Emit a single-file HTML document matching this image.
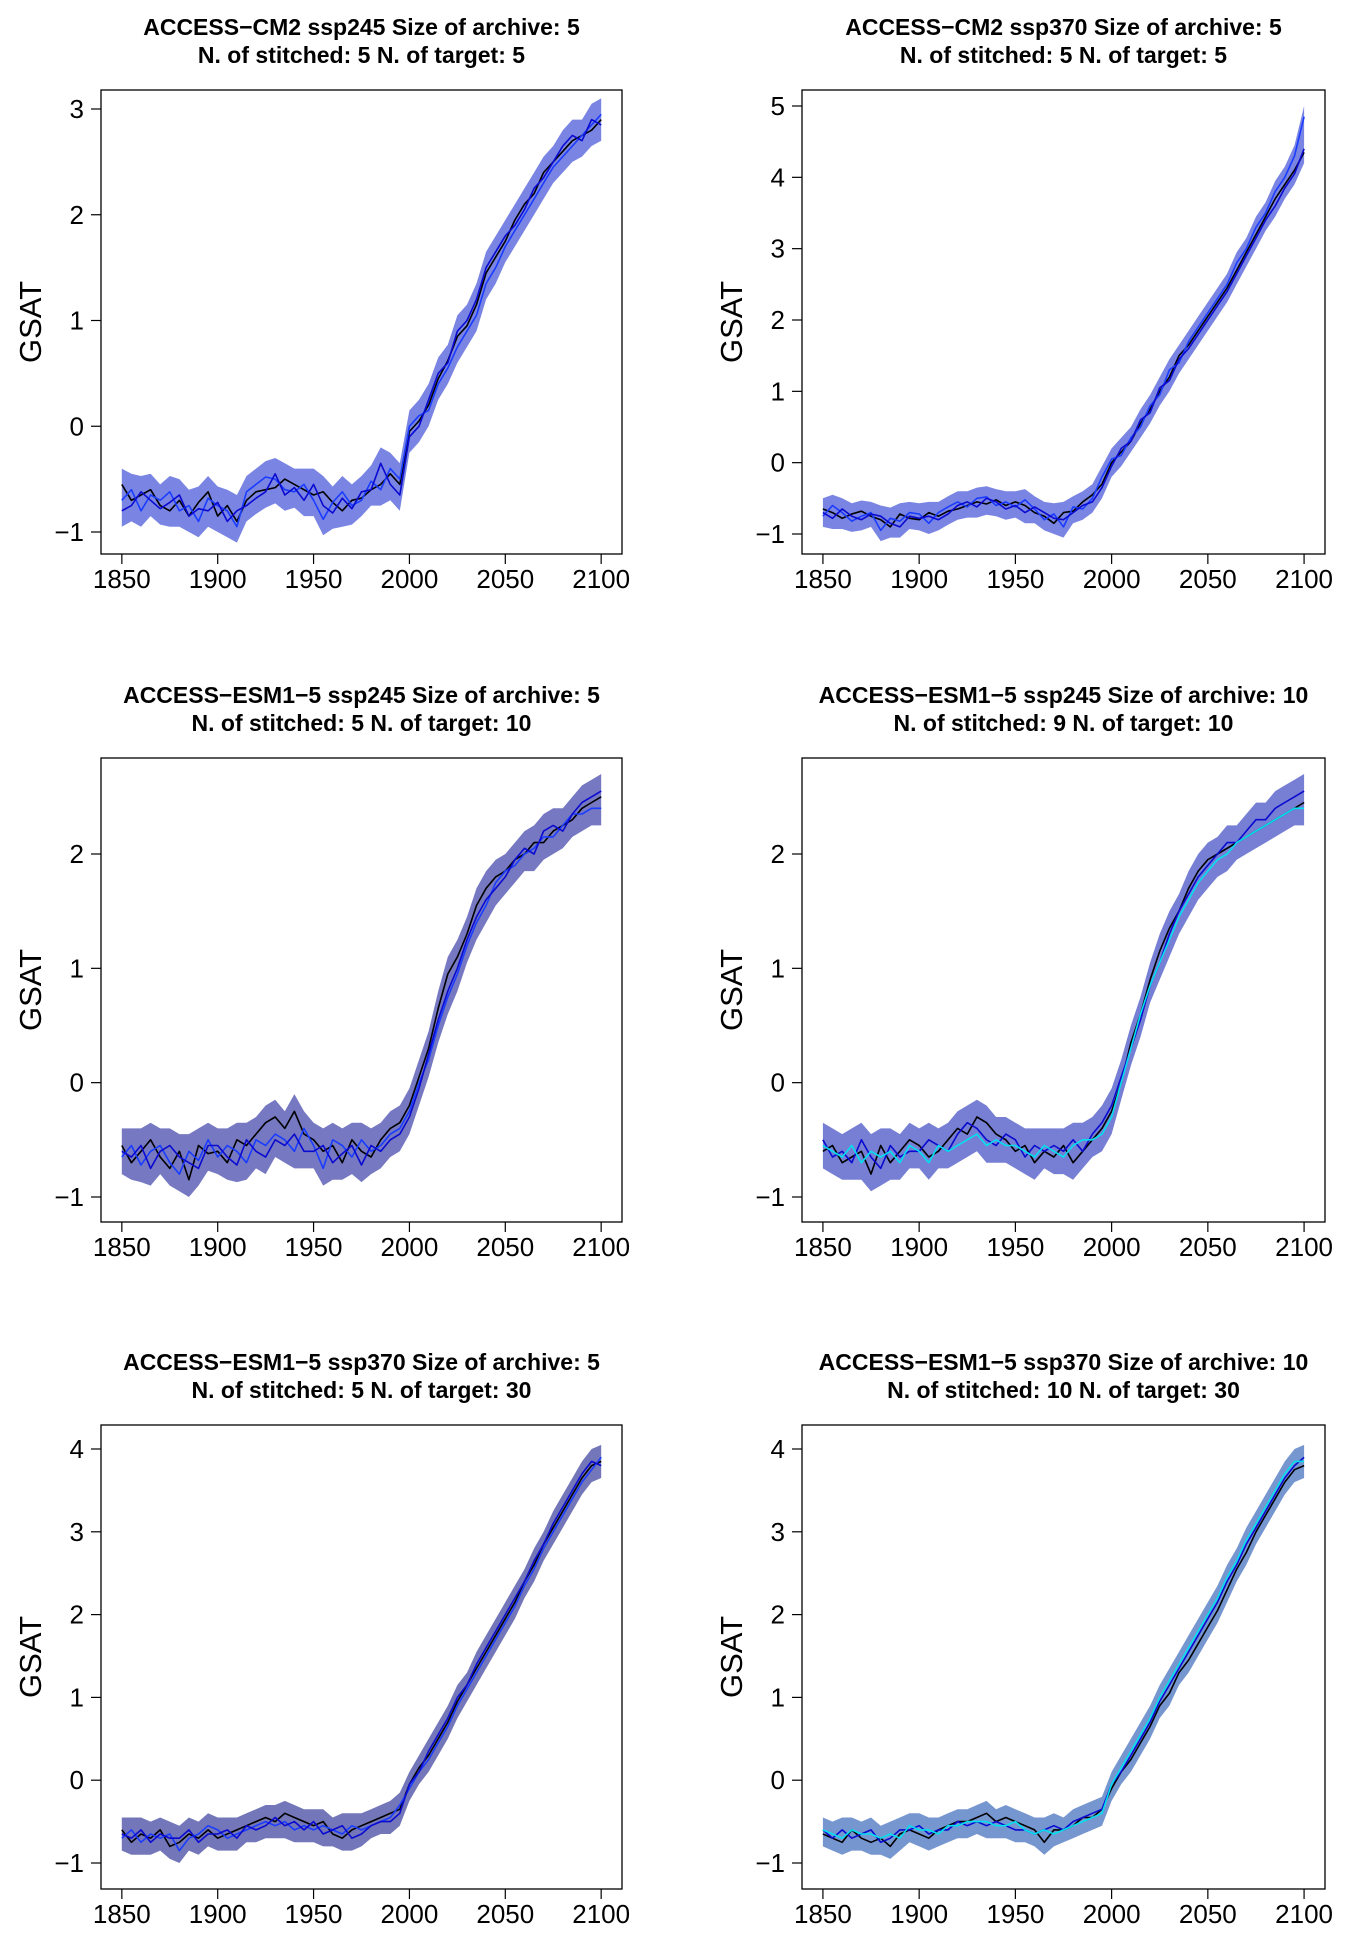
<!DOCTYPE html>
<html><head><meta charset="utf-8"><style>
html,body{margin:0;padding:0;background:#fff}
svg{display:block}
text{font-family:"Liberation Sans",Arial,sans-serif;fill:#000}
.t{font-weight:bold;font-size:23px}
.tk{font-size:26px}
.yl{font-size:31px}
</style></head><body>
<svg id="chart" width="1350" height="1938" viewBox="0 0 1350 1938" xmlns="http://www.w3.org/2000/svg"></svg>
<script>
const years=[1850,1855,1860,1865,1870,1875,1880,1885,1890,1895,1900,1905,1910,1915,1920,1925,1930,1935,1940,1945,1950,1955,1960,1965,1970,1975,1980,1985,1990,1995,2000,2005,2010,2015,2020,2025,2030,2035,2040,2045,2050,2055,2060,2065,2070,2075,2080,2085,2090,2095,2100];
const xTicks=[1850,1900,1950,2000,2050,2100];
const yTicks1=[-1,0,1,2,3];
const yTicks2=[-1,0,1,2,3,4,5];
const yTicks3=[-1,0,1,2];
const yTicks5=[-1,0,1,2,3,4];
const titles1=["ACCESS\u2212CM2 ssp245 Size of archive: 5","N. of stitched: 5 N. of target: 5"];
const titles2=["ACCESS\u2212CM2 ssp370 Size of archive: 5","N. of stitched: 5 N. of target: 5"];
const titles3=["ACCESS\u2212ESM1\u22125 ssp245 Size of archive: 5","N. of stitched: 5 N. of target: 10"];
const titles4=["ACCESS\u2212ESM1\u22125 ssp245 Size of archive: 10","N. of stitched: 9 N. of target: 10"];
const titles5=["ACCESS\u2212ESM1\u22125 ssp370 Size of archive: 5","N. of stitched: 5 N. of target: 30"];
const titles6=["ACCESS\u2212ESM1\u22125 ssp370 Size of archive: 10","N. of stitched: 10 N. of target: 30"];

const p1a=[-0.55,-0.7,-0.65,-0.6,-0.75,-0.8,-0.7,-0.85,-0.72,-0.62,-0.85,-0.75,-0.9,-0.7,-0.62,-0.6,-0.58,-0.5,-0.55,-0.6,-0.65,-0.62,-0.72,-0.8,-0.7,-0.68,-0.6,-0.55,-0.45,-0.55,-0.05,0.05,0.2,0.45,0.62,0.85,0.95,1.15,1.45,1.6,1.75,1.95,2.1,2.2,2.4,2.5,2.6,2.7,2.75,2.8,2.9];
const p1b=[-0.7,-0.6,-0.8,-0.65,-0.7,-0.62,-0.8,-0.75,-0.9,-0.68,-0.75,-0.8,-0.95,-0.62,-0.55,-0.48,-0.5,-0.6,-0.62,-0.55,-0.7,-0.88,-0.72,-0.62,-0.75,-0.7,-0.52,-0.6,-0.4,-0.5,0.0,0.1,0.15,0.4,0.55,0.75,0.9,1.05,1.35,1.5,1.7,1.85,2.0,2.15,2.3,2.45,2.55,2.65,2.75,2.85,2.95];
const p1c=[-0.8,-0.75,-0.62,-0.7,-0.78,-0.72,-0.65,-0.85,-0.78,-0.8,-0.72,-0.9,-0.8,-0.75,-0.68,-0.62,-0.45,-0.65,-0.58,-0.7,-0.55,-0.75,-0.82,-0.68,-0.78,-0.62,-0.6,-0.35,-0.55,-0.65,-0.1,0.0,0.25,0.5,0.6,0.9,1.0,1.2,1.5,1.65,1.8,1.9,2.05,2.25,2.35,2.5,2.65,2.75,2.7,2.9,2.85];

const p2a=[-0.65,-0.7,-0.78,-0.72,-0.68,-0.75,-0.8,-0.9,-0.72,-0.78,-0.8,-0.7,-0.75,-0.68,-0.65,-0.6,-0.55,-0.58,-0.52,-0.6,-0.55,-0.6,-0.7,-0.75,-0.85,-0.7,-0.68,-0.55,-0.45,-0.3,0.0,0.15,0.3,0.55,0.75,1.0,1.2,1.5,1.65,1.85,2.05,2.25,2.45,2.7,2.95,3.2,3.45,3.7,3.9,4.1,4.35];
const p2b=[-0.75,-0.6,-0.7,-0.82,-0.75,-0.7,-0.95,-0.78,-0.82,-0.7,-0.72,-0.85,-0.7,-0.62,-0.55,-0.62,-0.5,-0.48,-0.6,-0.55,-0.62,-0.52,-0.65,-0.8,-0.72,-0.9,-0.62,-0.65,-0.5,-0.2,0.05,0.1,0.35,0.5,0.8,0.95,1.3,1.4,1.7,1.9,2.1,2.3,2.5,2.8,3.0,3.3,3.5,3.8,4.0,4.3,4.85];
const p2c=[-0.7,-0.78,-0.65,-0.75,-0.8,-0.72,-0.75,-0.85,-0.9,-0.75,-0.78,-0.75,-0.8,-0.72,-0.6,-0.55,-0.62,-0.5,-0.55,-0.65,-0.6,-0.7,-0.62,-0.7,-0.78,-0.8,-0.7,-0.6,-0.55,-0.35,-0.05,0.2,0.3,0.6,0.7,1.05,1.15,1.45,1.6,1.8,2.0,2.2,2.4,2.65,2.9,3.15,3.4,3.6,3.85,4.05,4.4];

const p3a=[-0.55,-0.7,-0.6,-0.5,-0.65,-0.75,-0.6,-0.85,-0.55,-0.62,-0.6,-0.7,-0.5,-0.55,-0.45,-0.35,-0.3,-0.4,-0.25,-0.45,-0.5,-0.6,-0.55,-0.7,-0.5,-0.6,-0.65,-0.5,-0.4,-0.35,-0.2,0.05,0.3,0.65,0.95,1.1,1.3,1.55,1.7,1.8,1.85,1.95,2.0,2.1,2.1,2.2,2.25,2.3,2.4,2.45,2.5];
const p3b=[-0.65,-0.55,-0.72,-0.6,-0.55,-0.7,-0.8,-0.6,-0.68,-0.5,-0.65,-0.55,-0.6,-0.7,-0.5,-0.55,-0.45,-0.5,-0.6,-0.4,-0.55,-0.75,-0.5,-0.55,-0.65,-0.5,-0.6,-0.55,-0.45,-0.4,-0.25,0.0,0.2,0.5,0.75,0.95,1.2,1.4,1.55,1.75,1.85,1.9,2.0,2.05,2.15,2.15,2.25,2.35,2.35,2.4,2.4];
const p3c=[-0.6,-0.65,-0.55,-0.75,-0.6,-0.55,-0.65,-0.7,-0.75,-0.55,-0.55,-0.65,-0.72,-0.5,-0.6,-0.65,-0.5,-0.55,-0.45,-0.6,-0.6,-0.55,-0.7,-0.62,-0.55,-0.72,-0.55,-0.6,-0.5,-0.45,-0.3,-0.05,0.25,0.55,0.8,1.0,1.25,1.45,1.6,1.7,1.8,1.95,2.05,2.0,2.2,2.25,2.2,2.35,2.45,2.5,2.55];

const p4a=[-0.6,-0.55,-0.7,-0.65,-0.6,-0.8,-0.55,-0.7,-0.6,-0.5,-0.55,-0.65,-0.6,-0.5,-0.4,-0.45,-0.3,-0.35,-0.45,-0.5,-0.6,-0.55,-0.7,-0.6,-0.65,-0.55,-0.7,-0.6,-0.5,-0.4,-0.25,0.0,0.35,0.6,0.9,1.15,1.35,1.5,1.7,1.85,1.95,2.0,2.05,2.1,2.15,2.2,2.25,2.3,2.35,2.4,2.45];
const p4b=[-0.5,-0.65,-0.6,-0.7,-0.5,-0.65,-0.75,-0.55,-0.65,-0.6,-0.6,-0.5,-0.55,-0.6,-0.45,-0.35,-0.4,-0.5,-0.55,-0.45,-0.5,-0.65,-0.55,-0.6,-0.55,-0.6,-0.5,-0.6,-0.45,-0.35,-0.2,0.05,0.3,0.55,0.85,1.05,1.3,1.5,1.65,1.8,1.9,2.0,2.1,2.1,2.2,2.3,2.3,2.4,2.45,2.5,2.55];
const p4c=[-0.55,-0.6,-0.65,-0.55,-0.7,-0.6,-0.65,-0.6,-0.7,-0.55,-0.6,-0.7,-0.55,-0.6,-0.55,-0.5,-0.45,-0.55,-0.5,-0.55,-0.55,-0.6,-0.65,-0.55,-0.6,-0.65,-0.55,-0.5,-0.5,-0.45,-0.3,0.0,0.3,0.6,0.85,1.05,1.25,1.45,1.6,1.75,1.85,1.95,2.0,2.1,2.15,2.2,2.25,2.3,2.35,2.4,2.4];

const p5a=[-0.6,-0.75,-0.65,-0.7,-0.6,-0.8,-0.75,-0.65,-0.7,-0.6,-0.7,-0.65,-0.6,-0.55,-0.5,-0.45,-0.5,-0.4,-0.45,-0.5,-0.55,-0.5,-0.65,-0.7,-0.6,-0.55,-0.5,-0.45,-0.4,-0.35,-0.05,0.15,0.3,0.5,0.7,0.95,1.15,1.35,1.55,1.75,1.95,2.15,2.4,2.6,2.85,3.05,3.25,3.45,3.65,3.8,3.85];
const p5b=[-0.7,-0.6,-0.75,-0.65,-0.7,-0.65,-0.85,-0.7,-0.65,-0.55,-0.6,-0.7,-0.65,-0.6,-0.55,-0.5,-0.55,-0.5,-0.6,-0.55,-0.6,-0.55,-0.6,-0.65,-0.55,-0.6,-0.55,-0.5,-0.45,-0.3,-0.1,0.1,0.25,0.45,0.65,0.9,1.1,1.3,1.5,1.7,1.9,2.1,2.35,2.55,2.8,3.0,3.2,3.4,3.6,3.75,3.9];
const p5c=[-0.65,-0.7,-0.6,-0.75,-0.65,-0.7,-0.7,-0.6,-0.75,-0.65,-0.65,-0.6,-0.7,-0.55,-0.6,-0.55,-0.45,-0.55,-0.5,-0.6,-0.5,-0.65,-0.6,-0.55,-0.7,-0.65,-0.55,-0.5,-0.5,-0.4,-0.05,0.1,0.35,0.55,0.75,1.0,1.15,1.4,1.6,1.8,2.0,2.2,2.4,2.65,2.85,3.1,3.3,3.5,3.7,3.85,3.8];

const p6a=[-0.65,-0.7,-0.75,-0.6,-0.7,-0.75,-0.7,-0.8,-0.65,-0.6,-0.65,-0.7,-0.6,-0.55,-0.5,-0.5,-0.45,-0.4,-0.5,-0.45,-0.5,-0.55,-0.6,-0.75,-0.6,-0.6,-0.55,-0.45,-0.45,-0.35,-0.1,0.1,0.25,0.45,0.65,0.9,1.05,1.3,1.45,1.65,1.85,2.05,2.3,2.55,2.75,3.0,3.2,3.4,3.6,3.75,3.8];
const p6b=[-0.6,-0.7,-0.6,-0.7,-0.65,-0.6,-0.75,-0.7,-0.6,-0.6,-0.55,-0.65,-0.6,-0.6,-0.5,-0.55,-0.5,-0.55,-0.5,-0.55,-0.6,-0.6,-0.65,-0.6,-0.55,-0.6,-0.5,-0.45,-0.4,-0.35,-0.05,0.1,0.3,0.5,0.7,0.95,1.15,1.35,1.55,1.75,1.95,2.15,2.4,2.6,2.85,3.05,3.25,3.45,3.65,3.8,3.9];
const p6c=[-0.6,-0.65,-0.7,-0.6,-0.65,-0.65,-0.7,-0.65,-0.7,-0.55,-0.6,-0.6,-0.65,-0.55,-0.55,-0.5,-0.5,-0.5,-0.55,-0.55,-0.5,-0.6,-0.65,-0.6,-0.65,-0.6,-0.55,-0.5,-0.45,-0.4,-0.05,0.15,0.35,0.55,0.75,1.0,1.2,1.4,1.6,1.8,2.0,2.2,2.45,2.65,2.9,3.1,3.3,3.5,3.7,3.85,3.85];

const NS="http://www.w3.org/2000/svg";
const svg=document.getElementById('chart');
function mk(tag,attrs,parent){const e=document.createElementNS(NS,tag);for(const k in attrs)e.setAttribute(k,attrs[k]);(parent||svg).appendChild(e);return e;}

function panel(idx,L,T,R,B,tk0y,tk0v,tk1y,tk1v,yTicks,titles,series,colors,bandCol){
  const g=mk('g',{});
  
  
  const x=y=>L+(R-L)*(0.04+0.92*(y-1850)/250);
  const yv=v=>tk0y+(v-tk0v)*(tk1y-tk0y)/(tk1v-tk0v);
  const cx=(L+R)/2;
  titles.forEach((s,i)=>{
    const t=mk('text',{x:cx,y:(T-55)+i*28,'text-anchor':'middle',class:'t'},g);
    t.textContent=s;
    
    
  });
  let up='',lo='';
  for(let i=0;i<years.length;i++){
    let mn=Infinity,mx=-Infinity;
    series.forEach(s=>{mn=Math.min(mn,s[i]);mx=Math.max(mx,s[i]);});
    up+=(i?' L':'M')+x(years[i]).toFixed(1)+' '+yv(mx+0.15).toFixed(1);
    lo=' L'+x(years[i]).toFixed(1)+' '+yv(mn-0.15).toFixed(1)+lo;
  }
  const band=mk('path',{d:up+lo+' Z',fill:bandCol,'fill-opacity':'0.6',stroke:'none'},g);
  
  
  series.forEach((s,si)=>{
    const d=s.map((v,i)=>(i?'L':'M')+x(years[i]).toFixed(1)+' '+yv(v).toFixed(1)).join(' ');
    const p=mk('path',{d:d,fill:'none',stroke:colors[si],'stroke-width':1.6,'stroke-linejoin':'round'},g);
    
    
  });
  const box=mk('rect',{x:L,y:T,width:R-L,height:B-T,fill:'none',stroke:'#000','stroke-width':1.3},g);
  
  
  xTicks.forEach(v=>{
    mk('line',{x1:x(v),x2:x(v),y1:B,y2:B+10,stroke:'#000','stroke-width':1.2},g);
    const t=mk('text',{x:x(v),y:B+34,'text-anchor':'middle',class:'tk'},g);
    t.textContent=v;
    
    
  });
  yTicks.forEach(v=>{
    mk('line',{x1:L-10,x2:L,y1:yv(v),y2:yv(v),stroke:'#000','stroke-width':1.2},g);
    const t=mk('text',{x:L-17,y:yv(v)+9,'text-anchor':'end',class:'tk'},g);
    t.textContent=v<0?'\u2212'+(-v):v;
    
    
  });
  const yl=mk('text',{x:0,y:0,'text-anchor':'middle',class:'yl',transform:'translate('+(L-60)+','+((T+B)/2)+') rotate(-90)'},g);
  yl.textContent='GSAT';
  
  
}
const BL='#000000',B1='#1a3cff',B2='#0a0ad0',CY='#00e0f0';
panel(1,101,90,622,554,109,3,532,-1,yTicks1,titles1,[p1a,p1b,p1c],[BL,B1,B2],'#2233d0');
panel(2,802,90,1325,554,106,5,534,-1,yTicks2,titles2,[p2a,p2b,p2c],[BL,B1,B2],'#2233d0');
panel(3,101,758,622,1222,854,2,1197,-1,yTicks3,titles3,[p3a,p3b,p3c],[BL,B1,B2],'#1a2099');
panel(4,802,758,1325,1222,854,2,1197,-1,yTicks3,titles4,[p4a,p4b,p4c],[BL,B2,CY],'#1a2ab8');
panel(5,101,1425,622,1889,1449,4,1863,-1,yTicks5,titles5,[p5a,p5b,p5c],[BL,B1,B2],'#151a88');
panel(6,802,1425,1325,1889,1449,4,1863,-1,yTicks5,titles6,[p6a,p6b,p6c],[BL,B2,CY],'#1a50b0');
</script>
</body></html>
